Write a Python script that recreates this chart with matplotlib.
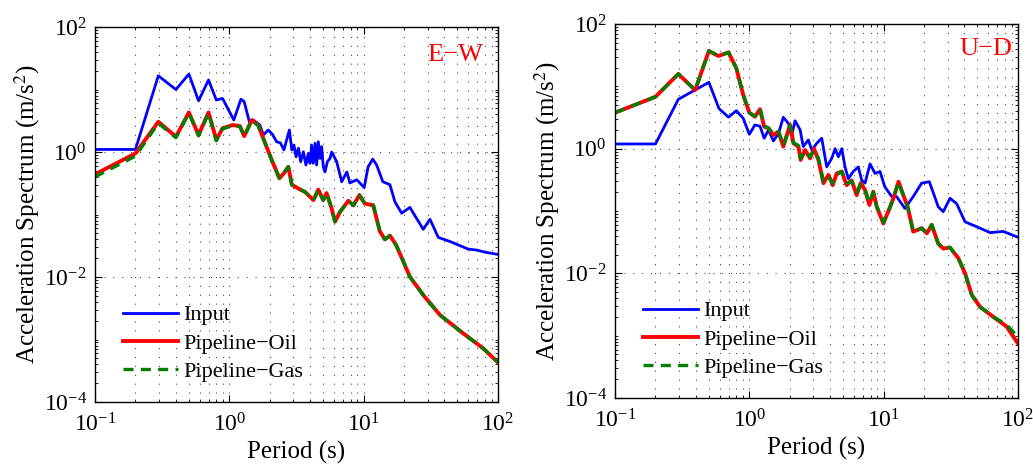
import numpy as np
import matplotlib
matplotlib.use('Agg')
import matplotlib.pyplot as plt
from matplotlib.ticker import LogLocator, NullFormatter, LogFormatterMathtext

plt.rcParams['font.family'] = ['Liberation Serif', 'DejaVu Serif']
plt.rcParams['mathtext.fontset'] = 'stix'

# ---- E-W component ----
t_in_ew = [0.1, 0.2, 0.296, 0.40, 0.5, 0.59, 0.70, 0.80, 0.89, 1.08, 1.22, 1.29, 1.41, 1.51,
           1.69, 1.79, 1.95, 2.1, 2.25, 2.4, 2.55, 2.8, 2.92, 3.03, 3.14, 3.27, 3.40, 3.56,
           3.72, 3.87, 3.99, 4.10, 4.22, 4.35, 4.47, 4.60, 4.73, 4.87, 5.01, 5.16, 5.37, 5.62,
           5.78, 6.3, 6.87, 7.5, 7.9, 8.9, 10.1, 10.8, 11.7, 12.5, 13.9, 15.7, 17.1, 19.2,
           22.1, 27.8, 31.2, 36, 44, 50, 60, 69.5, 80, 100]
a_in_ew = [1.1, 1.1, 16.6, 10, 17.7, 6.6, 14.2, 6.8, 7.2, 3.25, 7.0, 6.4, 3.05, 3.25,
           2.7, 1.87, 2.25, 1.9, 1.46, 1.4, 1.08, 2.25, 1.08, 1.29, 0.84, 1.15, 0.70, 1.01,
           0.62, 0.95, 0.66, 1.29, 0.66, 1.38, 0.62, 1.46, 0.79, 1.22, 0.58, 0.48, 0.70, 0.79,
           1.0, 0.70, 0.335, 0.48, 0.32, 0.36, 0.27, 0.58, 0.77, 0.62, 0.335, 0.30, 0.16, 0.105,
           0.13, 0.058, 0.084, 0.043, 0.037, 0.033, 0.028, 0.027, 0.025, 0.023]

t_pipe_ew = [0.1, 0.2, 0.296, 0.40, 0.5, 0.59, 0.70, 0.80, 0.89, 1.06, 1.2, 1.29, 1.47, 1.64,
             1.85, 2.07, 2.36, 2.55, 2.75, 2.92, 3.27, 3.66, 4.23, 4.6, 5.0, 5.3, 5.78, 6.12,
             6.67, 7.7, 8.4, 9.3, 10.2, 11.8, 13.2, 14.4, 15.7, 17.4, 19.8, 22.1, 27.8, 37,
             55, 77.8, 100]
a_oil_ew = [0.44, 0.95, 3.05, 1.76, 4.3, 1.87, 4.3, 1.56, 2.4, 2.7, 2.6, 1.8, 3.25, 2.7,
            1.38, 0.745, 0.38, 0.46, 0.58, 0.30, 0.26, 0.23, 0.17, 0.25, 0.17, 0.22, 0.125, 0.077,
            0.11, 0.166, 0.14, 0.205, 0.15, 0.14, 0.054, 0.040, 0.046, 0.033, 0.0175, 0.0101, 0.00515, 0.00247,
            0.00126, 0.00072, 0.00043]
a_gas_ew = [0.40, 0.86, 2.9, 1.7, 4.2, 1.82, 4.2, 1.52, 2.35, 2.65, 2.55, 1.78, 3.2, 2.65,
            1.36, 0.74, 0.38, 0.46, 0.58, 0.30, 0.26, 0.23, 0.17, 0.25, 0.17, 0.22, 0.125, 0.077,
            0.11, 0.166, 0.14, 0.205, 0.15, 0.14, 0.054, 0.040, 0.046, 0.033, 0.0175, 0.0101, 0.00515, 0.00247,
            0.00126, 0.00072, 0.00043]

# ---- U-D component ----
t_in_ud = [0.1, 0.2, 0.296, 0.5, 0.594, 0.70, 0.80, 0.90, 1.0, 1.10, 1.2, 1.29, 1.39, 1.51,
           1.65, 1.79, 1.95, 2.07, 2.19, 2.39, 2.52, 2.75, 2.92, 3.18, 3.46, 3.77, 4.11, 4.35,
           4.6, 4.88, 5.16, 5.46, 5.94, 6.48, 6.87, 7.27, 7.92, 8.63, 9.4, 10.2, 11.5, 12.5,
           14.4, 16.6, 19.2, 21.9, 25.5, 27.8, 31.2, 35, 40.4, 49.3, 62, 77.8, 100]
a_in_ud = [1.19, 1.19, 6.2, 11.6, 4.4, 3.2, 4.07, 3.07, 1.7, 2.4, 2.3, 1.47, 2.0, 1.33,
           1.76, 3.19, 2.55, 1.66, 2.8, 2.0, 1.08, 1.38, 0.95, 1.22, 1.47, 0.51, 0.70, 1.0,
           0.74, 1.0, 0.51, 0.33, 0.43, 0.51, 0.31, 0.28, 0.57, 0.40, 0.43, 0.245, 0.17, 0.17,
           0.11, 0.17, 0.28, 0.295, 0.117, 0.0975, 0.16, 0.131, 0.067, 0.056, 0.045, 0.047, 0.038]

t_pipe_ud = [0.1, 0.2, 0.296, 0.395, 0.5, 0.587, 0.7, 0.8, 0.9, 1.0, 1.1, 1.2, 1.29, 1.39,
             1.51, 1.65, 1.79, 2.01, 2.13, 2.32, 2.41, 2.6, 2.83, 3.03, 3.27, 3.56, 3.88, 4.18,
             4.47, 4.88, 5.3, 5.78, 6.3, 6.75, 7.27, 7.84, 8.38, 8.88, 9.96, 10.8, 11.7, 12.9,
             14, 15.1, 16.6, 19.2, 21, 22.8, 25.5, 27.8, 31.2, 36, 40.4, 45.3, 52.2, 65.6,
             82.4, 100]
a_oil_ud = [3.78, 6.8, 15.8, 8.7, 37, 30.7, 35, 19.5, 7.3, 3.78, 3.26, 4.28, 2.25, 2.12,
            1.66, 1.87, 1.08, 2.4, 1.22, 1.08, 0.66, 0.95, 0.70, 1.0, 0.66, 0.28, 0.38, 0.26,
            0.40, 0.43, 0.26, 0.31, 0.18, 0.28, 0.217, 0.125, 0.204, 0.117, 0.063, 0.0975, 0.15, 0.295,
            0.18, 0.117, 0.0466, 0.053, 0.044, 0.06, 0.030, 0.025, 0.026, 0.0175, 0.01, 0.0045, 0.0029, 0.002,
            0.0014, 0.00075]
a_gas_ud = [3.78, 6.8, 15.8, 8.7, 37, 30.7, 35, 19.5, 7.3, 3.78, 3.3, 4.4, 2.3, 2.15,
            1.7, 1.9, 1.12, 2.35, 1.25, 1.12, 0.7, 0.92, 0.74, 0.95, 0.7, 0.3, 0.36, 0.28,
            0.38, 0.43, 0.28, 0.3, 0.2, 0.27, 0.22, 0.135, 0.2, 0.12, 0.066, 0.095, 0.15, 0.29,
            0.18, 0.117, 0.0466, 0.053, 0.044, 0.06, 0.030, 0.025, 0.026, 0.0175, 0.01, 0.0045, 0.0029, 0.002,
            0.0015, 0.00095]

panels = [
    ('E\u2212W', (0.963, 0.925), t_in_ew, a_in_ew, t_pipe_ew, a_oil_ew, a_gas_ew,
     [0.092, 0.1373, 0.390, 0.8047]),
    ('U\u2212D', (0.985, 0.933), t_in_ud, a_in_ud, t_pipe_ud, a_oil_ud, a_gas_ud,
     [0.5954, 0.1459, 0.390, 0.8026]),
]

fig = plt.figure(figsize=(10.33, 4.66), dpi=100)

for name, tpos, t_in, a_in, t_p, a_oil, a_gas, rect in panels:
    ax = fig.add_axes(rect)
    ax.loglog(t_in, a_in, color='b', lw=2.0, label='Input')
    ax.loglog(t_p, a_oil, color='r', lw=2.8, label='Pipeline\u2212Oil')
    ax.loglog(t_p, a_gas, color=(0, 0.5, 0), lw=2.4, ls=(0, (3, 2.2)), label='Pipeline\u2212Gas')

    ax.set_xlim(0.1, 100)
    ax.set_ylim(1e-4, 1e2)
    ax.xaxis.set_major_locator(LogLocator(base=10, numticks=10))
    ax.xaxis.set_minor_locator(LogLocator(base=10, subs=np.arange(2, 10), numticks=20))
    ax.yaxis.set_major_locator(LogLocator(base=100, numticks=10))
    ax.yaxis.set_minor_locator(LogLocator(base=10, subs=np.arange(1, 10), numticks=20))
    ax.xaxis.set_major_formatter(LogFormatterMathtext())
    ax.yaxis.set_major_formatter(LogFormatterMathtext(base=10))
    ax.xaxis.set_minor_formatter(NullFormatter())
    ax.yaxis.set_minor_formatter(NullFormatter())

    ax.tick_params(which='both', direction='in', top=True, right=True, labelsize=17)
    ax.tick_params(which='major', length=5, width=0.8)
    ax.tick_params(which='minor', length=2.5, width=0.6, labelbottom=False, labelleft=False)
    ax.tick_params(axis='x', which='major', pad=8)
    ax.tick_params(axis='y', which='major', pad=6)
    ax.grid(True, which='both', axis='x', color='0.3', lw=0.8, ls=(0, (1, 7)))
    ax.grid(True, which='major', axis='y', color='0.3', lw=0.8, ls=(0, (1, 7)))
    for s in ax.spines.values():
        s.set_linewidth(1.0)

    ax.set_xlabel('Period (s)', fontsize=18, labelpad=3)
    ax.set_ylabel('Acceleration Spectrum (m/s$^2$)', fontsize=18, labelpad=1)
    ax.text(tpos[0], tpos[1], name, color='r', fontsize=19, ha='right', va='center',
            transform=ax.transAxes)
    ax.legend(loc='lower left', bbox_to_anchor=(0.02, 0.0), frameon=False, fontsize=16,
              handlelength=2.45, labelspacing=0.35, handletextpad=0.25)

fig.savefig('out.png', dpi=100)
